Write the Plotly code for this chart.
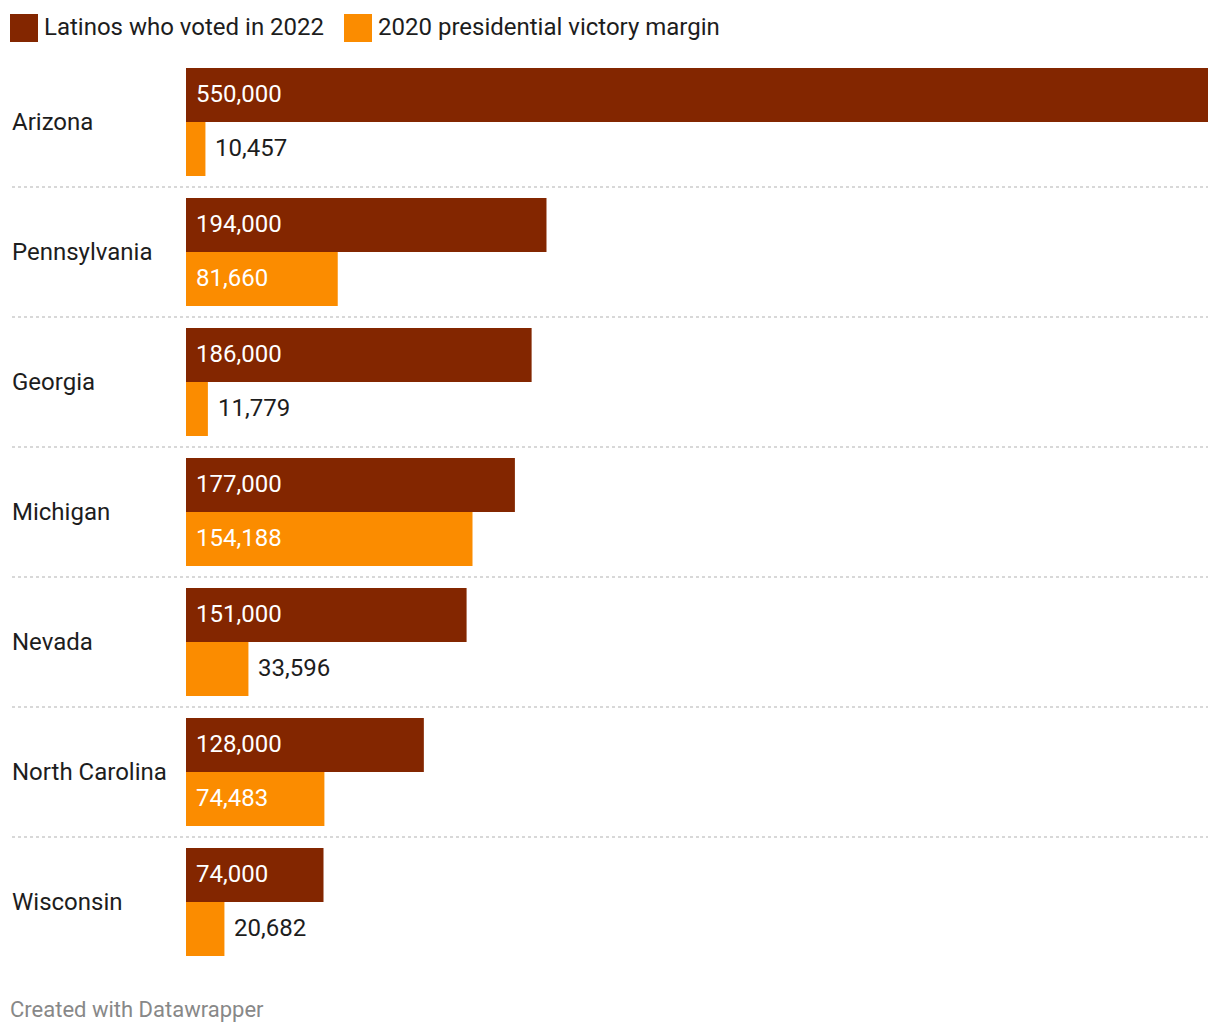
import plotly.graph_objects as go

states = ["Arizona", "Pennsylvania", "Georgia", "Michigan", "Nevada", "North Carolina", "Wisconsin"]
latinos_2022 = [550000, 194000, 186000, 177000, 151000, 128000, 74000]
margin_2020 = [10457, 81660, 11779, 154188, 33596, 74483, 20682]
series_names = ["Latinos who voted in 2022", "2020 presidential victory margin"]

DARK = "#832600"
ORANGE = "#fb8c00"
TEXT = "#1d1d1d"
FONT = "Roboto"

W, H = 1220, 1034
ML, MR, MT, MB = 186, 12, 57, 67
PW = W - ML - MR
PH = H - MT - MB
XMAX = 550000

fig = go.Figure()
fig.add_trace(go.Bar(y=states, x=latinos_2022, orientation="h", marker_color=DARK,
                     marker_line_width=0,
                     name=series_names[0], showlegend=False, hoverinfo="x"))
fig.add_trace(go.Bar(y=states, x=margin_2020, orientation="h", marker_color=ORANGE,
                     marker_line_width=0,
                     name=series_names[1], showlegend=False, hoverinfo="x"))

ann = []
px_per_unit = PW / XMAX
half = 27
for s, a, b in zip(states, latinos_2022, margin_2020):
    for v, shift in ((a, half), (b, -half)):
        inside = v * px_per_unit > 100
        if inside:
            ann.append(dict(x=0, y=s, xref="x", yref="y", text=f"{v:,}", showarrow=False,
                            xanchor="left", yanchor="middle", xshift=8, yshift=shift + 1,
                            font=dict(family=FONT, size=24, color="white")))
        else:
            ann.append(dict(x=v, y=s, xref="x", yref="y", text=f"{v:,}", showarrow=False,
                            xanchor="left", yanchor="middle", xshift=8, yshift=shift + 1,
                            font=dict(family=FONT, size=24, color=TEXT)))
    ann.append(dict(x=0, y=s, xref="paper", yref="y", text=s, showarrow=False,
                    xanchor="left", yanchor="middle", xshift=-(ML - 10),
                    font=dict(family=FONT, size=24, color=TEXT)))

shapes = []
for i in range(len(states) - 1):
    shapes.append(dict(type="line", xref="paper", yref="y",
                       x0=-(ML - 12) / PW, x1=1, y0=i + 0.5, y1=i + 0.5,
                       line=dict(color="#cccccc", width=1.5, dash="dot")))

# legend
def py(ypix):
    return 1 - (ypix - MT) / PH
def pxx(xpix):
    return (xpix - ML) / PW

legend_items = [(series_names[0], DARK, 10, 42), (series_names[1], ORANGE, 344, 376)]
for name, col, sx, tx in legend_items:
    shapes.append(dict(type="rect", xref="paper", yref="paper",
                       x0=pxx(sx), x1=pxx(sx + 28), y0=py(14), y1=py(42),
                       fillcolor=col, line=dict(width=0)))
    ann.append(dict(x=pxx(tx), y=py(27), xref="paper", yref="paper", text=name,
                    showarrow=False, xanchor="left", yanchor="middle",
                    font=dict(family=FONT, size=24, color=TEXT)))

ann.append(dict(x=pxx(8), y=py(1009), xref="paper", yref="paper", text="Created with Datawrapper",
                showarrow=False, xanchor="left", yanchor="middle",
                font=dict(family=FONT, size=22, color="#888888")))

fig.update_layout(
    width=W, height=H,
    margin=dict(l=ML, r=MR, t=MT, b=MB),
    paper_bgcolor="white", plot_bgcolor="white",
    barmode="group", bargap=22 / 130, bargroupgap=0,
    xaxis=dict(range=[0, XMAX], visible=False, fixedrange=True),
    yaxis=dict(autorange="reversed", showticklabels=False, showgrid=False,
               zeroline=False, ticks="", fixedrange=True),
    annotations=ann, shapes=shapes,
    font=dict(family=FONT),
)

fig.write_html("out.html", config={"displayModeBar": False})
